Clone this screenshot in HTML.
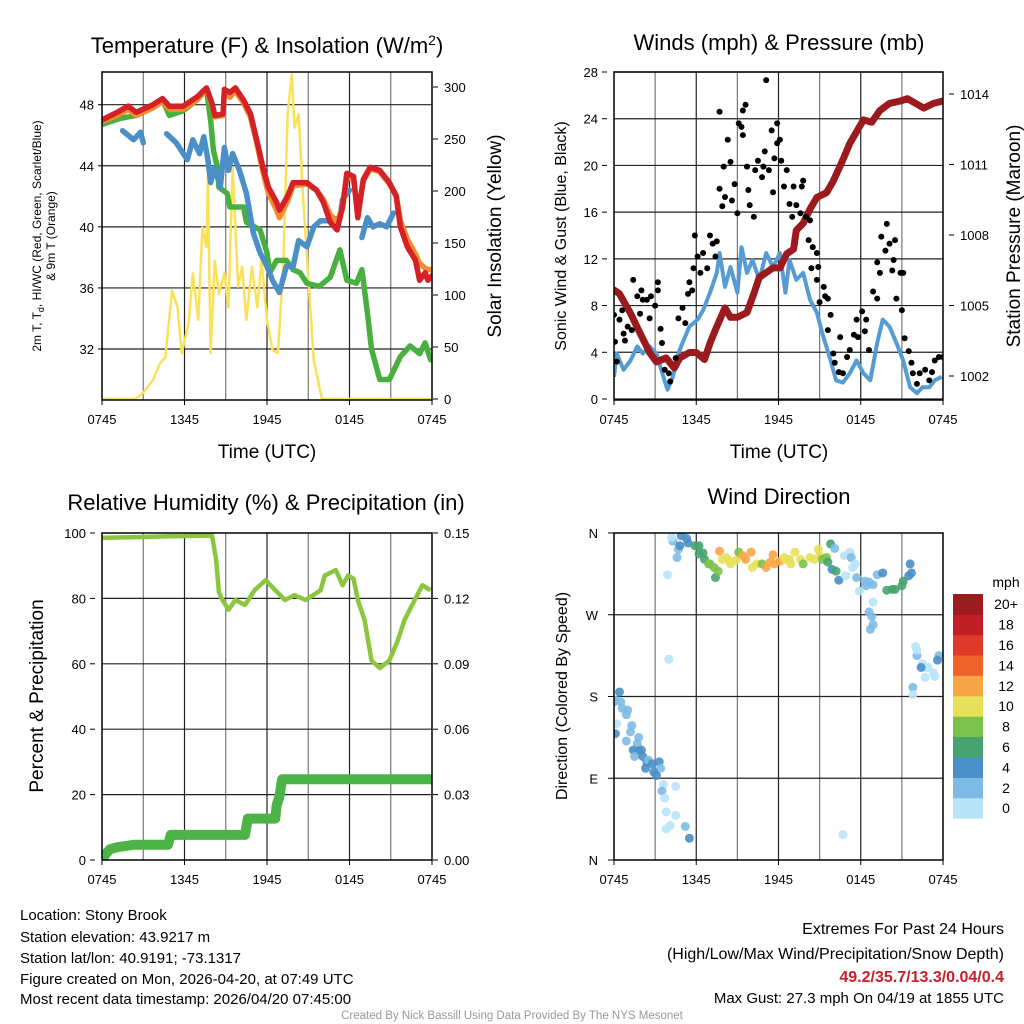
<!DOCTYPE html>
<html><head><meta charset="utf-8"><style>
html,body{margin:0;padding:0;background:#fff;}
svg{display:block;font-family:"Liberation Sans",Arial,sans-serif;}
</style></head><body>
<svg id="s" width="1024" height="1024" viewBox="0 0 1024 1024" xmlns="http://www.w3.org/2000/svg">
<defs>
<clipPath id="c1"><rect x="102" y="72" width="330" height="328"/></clipPath>
<clipPath id="c2"><rect x="614" y="72" width="329" height="328"/></clipPath>
<clipPath id="c3"><rect x="102" y="533" width="330" height="327"/></clipPath>
<clipPath id="c4"><rect x="614" y="533" width="329" height="327"/></clipPath>
</defs>
<g id="g1"></g>
<g id="g2"></g>
<g id="g3"></g>
<g id="g4"></g>

<text x="267" y="53" font-size="22" text-anchor="middle">Temperature (F) &amp; Insolation (W/m<tspan dy="-8" font-size="14">2</tspan><tspan dy="8">)</tspan></text>
<text x="779" y="50" font-size="22" text-anchor="middle">Winds (mph) &amp; Pressure (mb)</text>
<text x="266" y="510" font-size="22" text-anchor="middle">Relative Humidity (%) &amp; Precipitation (in)</text>
<text x="779" y="504" font-size="22" text-anchor="middle">Wind Direction</text>

<text x="267" y="458" font-size="19" text-anchor="middle">Time (UTC)</text>
<text x="779" y="458" font-size="19" text-anchor="middle">Time (UTC)</text>

<text transform="translate(41,236) rotate(-90)" font-size="12" text-anchor="middle">2m T, T<tspan dy="3" font-size="9">d</tspan><tspan dy="-3">, HI/WC (Red, Green, Scarlet/Blue)</tspan></text>
<text transform="translate(55,236) rotate(-90)" font-size="12" text-anchor="middle">&amp; 9m T (Orange)</text>
<text transform="translate(501,236) rotate(-90)" font-size="19" text-anchor="middle">Solar Insolation (Yellow)</text>
<text transform="translate(566,236) rotate(-90)" font-size="16" text-anchor="middle">Sonic Wind &amp; Gust (Blue, Black)</text>
<text transform="translate(1020,236) rotate(-90)" font-size="19" text-anchor="middle">Station Pressure (Maroon)</text>
<text transform="translate(43,696) rotate(-90)" font-size="19" text-anchor="middle">Percent &amp; Precipitation</text>
<text transform="translate(567,696) rotate(-90)" font-size="16" text-anchor="middle">Direction (Colored By Speed)</text>

<g font-size="15">
<text x="20" y="920">Location: Stony Brook</text>
<text x="20" y="942">Station elevation: 43.9217 m</text>
<text x="20" y="963">Station lat/lon: 40.9191; -73.1317</text>
<text x="20" y="984">Figure created on Mon, 2026-04-20, at 07:49 UTC</text>
<text x="20" y="1004">Most recent data timestamp: 2026/04/20 07:45:00</text>
</g>
<g font-size="16" text-anchor="end">
<text x="1004" y="934">Extremes For Past 24 Hours</text>
<text x="1004" y="959">(High/Low/Max Wind/Precipitation/Snow Depth)</text>
<text x="1004" y="982" fill="#c7202a" font-weight="bold">49.2/35.7/13.3/0.04/0.4</text>
<text x="1004" y="1003" font-size="15">Max Gust: 27.3 mph On 04/19 at 1855 UTC</text>
</g>
<text x="512" y="1019" font-size="11.5" fill="#999" text-anchor="middle">Created By Nick Bassill Using Data Provided By The NYS Mesonet</text>
</svg>
<script>
// ---------- DATA ----------
const xTickLabels = ["0745","1345","1945","0145","0745"];
// Temperature panel
const redH = [0,1.1,1.9,2.5,3.7,4.4,4.9,5.9,6.9,7.6,8,8.2,8.8,8.9,9.3,9.7,10.3,10.8,11.3,11.7,12.1,12.7,12.9,13.5,13.9,14.9,15.6,16.1,16.6,17.1,17.5,17.8,18.3,18.6,19,19.5,20.2,20.9,21.4,21.7,22.2,22.8,23.1,23.5,23.7,24];
const redT = [47.0,47.5,47.9,47.5,48,48.4,47.9,47.9,48.5,49.1,48.1,47.3,47.4,49,48.8,49.1,48.3,47.4,45.5,43.9,42.6,41.6,41.1,42,42.9,42.9,42.4,41.6,40.3,39.8,41.3,43.5,43.3,40.6,43.1,43.9,43.7,42.9,42,40,38.7,37.8,36.5,37,36.5,36.8];
const orangeT = [46.9,47.3,47.7,47.3,47.8,48.2,47.7,47.7,48.3,49.0,48.0,47.2,47.3,48.8,48.5,48.9,48.1,47.2,45.3,43.6,42.2,41.1,40.6,41.7,42.7,42.8,42.4,41.8,40.8,40.3,41.3,43.3,43.1,40.9,43.0,43.8,43.6,42.8,42.1,40.4,39.2,38.2,37.6,37.3,37.2,37.2];
const greenH = [0,1.3,2.5,3.7,4.4,4.9,5.9,6.9,7.6,7.9,8.1,8.4,8.5,9.1,9.3,10.3,10.5,11.5,12,12.2,12.7,13.4,13.9,14.4,14.9,15.8,16.6,17.3,17.8,18.5,18.9,19.3,19.6,20.2,20.9,21.7,22.4,23.1,23.5,23.9];
const greenT = [46.7,47.1,47.3,47.8,48.3,47.3,47.6,48.3,49,47,45,43.9,42.6,42.2,41.3,41.3,40.3,39.8,38.3,37,37.8,37.8,37.2,37,36.3,36.1,36.7,38.5,36.5,36.3,37.2,34.4,32,30,30,31.5,32.2,31.7,32.4,31.3];
const blueH = [1.5,2.3,2.8,3.0,null,4.7,5.4,6.2,6.6,7.1,7.4,7.7,7.9,8.2,8.6,8.9,9.2,9.5,10,10.5,11,11.5,12,12.4,12.9,13.4,13.9,14.3,14.9,15.4,15.9,16.6,17.3,17.5,18,null,18.9,19.3,19.7,20.2,20.7,21.2];
const blueT = [46.3,45.7,46.2,45.5,null,46.1,45.5,44.4,45.7,44.8,45.9,44.4,42.9,43.9,42.6,45.2,43.7,44.8,43.7,42.2,39.6,38.3,37.4,36.5,35.7,37.4,37.4,39.1,38.7,40,40.4,40.4,40.6,41.8,42.4,null,39.3,40.6,40,40.2,40,40.9];
const solarH = [0,2.4,3,3.7,4.2,4.6,5.1,5.5,5.8,6.3,6.6,7,7.3,7.6,7.7,7.9,8.2,8.5,8.9,9.2,9.5,9.9,10.2,10.5,10.9,11.3,11.6,12,12.4,12.8,13.2,13.5,13.8,14,14.3,14.6,15,15.4,15.9,16,24];
const solarW = [0,0,6,18,34,40,104,88,44,73,121,76,165,146,213,44,133,101,121,88,223,108,127,76,127,88,133,76,47,44,133,274,312,261,274,198,117,37,6,0,0];
const tempTicks = [48,44,40,36,32];
const solarTicks = [0,50,100,150,200,250,300];
// Winds panel
const windH = [0,0.2,0.7,1.2,1.7,2.1,2.6,3.1,3.6,3.9,4.3,4.7,5,5.5,6.1,6.5,7,7.5,7.7,8.1,8.5,9,9.3,9.7,10.1,10.6,11.1,11.6,12.1,12.5,12.8,13.3,13.8,14.3,14.8,15.2,15.8,16.2,16.7,17.2,17.7,18.2,18.7,19.2,19.6,20.1,20.6,21.1,21.6,22.1,22.5,23,23.4,23.9];
const windV = [1.9,3.9,2.5,3.3,4.5,3.9,4.5,3.9,1.9,0.8,1.9,3.9,4.8,6.2,6.8,7.6,9.1,10.8,12.5,9.6,11.3,9.1,13,10.8,11.9,10.2,12.5,11.3,12.5,9.1,11.9,10.2,10.8,8.5,7.4,5.6,3.3,1.6,1.4,2.2,3.3,2.2,1.6,4.8,6.8,6.2,4.8,3.3,1,0.5,1,1,1.6,1.9];
const gustH = [0,0.07,0.2,0.4,0.6,0.7,0.8,1.0,1.3,1.4,1.7,1.9,2.0,2.1,2.4,2.6,2.7,3.0,3.2,3.2,3.4,3.5,3.7,4.0,4.1,4.5,4.7,5.0,5.2,5.4,5.5,5.7,5.9,5.8,6.1,6.3,6.5,6.8,7.0,7.2,7.4,7.5,7.7,7.9,8.0,8.1,7.7,8.3,8.5,8.6,8.8,9.0,9.1,9.3,9.4,9.6,9.4,9.7,9.8,9.9,10.2,10.3,10.5,10.8,10.9,11.0,11.1,11.3,11.5,11.6,11.7,11.9,11.9,12.1,12.2,12.4,12.6,12.8,13.0,13.1,13.3,13.6,13.7,13.8,14.0,14.2,14.3,14.5,14.4,14.8,14.9,14.8,15.3,15.4,15.6,15.0,15.8,15.6,16.0,16.1,16.4,16.5,16.7,17.0,17.2,17.5,17.7,17.8,18.1,18.3,18.4,18.6,18.9,19.2,19.2,19.4,19.5,19.8,19.9,20.1,20.3,20.4,20.5,20.6,20.9,21.0,21.1,21.2,21.5,21.7,21.8,22.1,22.3,22.7,23.0,23.2,23.4,23.7,24.0];
const gustV = [7.2,4.9,3.2,6.8,7.6,5.6,5.0,6.2,5.9,10.2,8.8,7.3,9.3,8.5,8.5,6.9,8.8,8.0,10.0,9.3,6.0,4.8,2.5,2.2,1.5,3.5,6.9,7.8,6.5,9.0,10.0,9.3,14.0,11.2,12.2,10.8,12.5,11.2,14.0,13.3,12.2,13.5,18.0,16.5,19.9,17.3,24.6,22.2,20.3,17.0,18.4,15.9,23.6,23.3,24.7,25.2,22.6,19.9,17.9,16.6,15.6,19.6,20.4,19.0,19.9,21.2,27.3,19.6,23.0,17.7,20.6,21.9,23.6,22.2,20.4,18.2,19.6,16.7,15.6,18.2,16.6,15.9,18.2,18.7,15.6,13.6,15.3,13.0,11.2,12.5,11.3,10.2,9.6,8.8,8.6,8.3,7.2,5.9,3.9,3.1,2.3,5.3,2.2,3.6,4.2,5.5,6.8,5.3,7.5,5.8,6.8,4.2,9.2,8.6,11.7,10.8,13.9,12.7,15.0,13.3,11.0,11.9,13.6,8.6,10.8,7.6,10.8,5.2,4.1,3.1,2.2,1.3,2.2,2.5,1.6,2.3,3.3,3.6,3.6];
const presH = [0,0.4,1.2,1.9,2.6,3.1,3.8,4.4,4.8,5.5,6.0,6.6,7.0,7.5,8.1,8.5,9.0,9.7,10.2,10.6,11.1,11.6,12.1,12.6,13.1,13.3,13.8,14.3,14.8,15.5,16.0,16.7,17.2,17.8,18.2,18.8,19.4,20.1,20.9,21.4,22.0,22.6,23.3,24];
const presP = [1005.66,1005.5,1004.67,1003.83,1003,1002.6,1002.77,1002.34,1002.77,1003,1003,1002.7,1003.4,1004.1,1004.9,1004.5,1004.5,1004.7,1005.5,1006.2,1006.4,1006.6,1006.6,1007.2,1007.4,1008.2,1008.5,1009.1,1009.6,1009.8,1010.3,1011.2,1011.9,1012.5,1012.9,1012.8,1013.3,1013.6,1013.7,1013.8,1013.6,1013.4,1013.6,1013.7];
const windTicks = [0,4,8,12,16,20,24,28];
const presTicks = [1002,1005,1008,1011,1014];
// Humidity panel
const rhH = [0,5,8.0,8.3,8.5,8.7,9.2,9.7,10.4,11.1,11.9,12.6,13.3,14,14.8,15.9,16.2,17,17.5,17.9,18.3,18.6,19.1,19.6,20.2,20.9,21.5,22,22.8,23.3,23.9];
const rhV = [98.5,99,99.2,92,82,80,76.5,79.5,78,82.5,85.6,82.5,79.5,81,79.5,82.5,87,88.7,84,87,86,79.5,73.4,61,58.7,61,67,73.4,80,84,82.5];
const pcpH = [0,0.3,0.6,1.2,2.4,4.8,5.0,10.4,10.6,12.6,12.7,12.9,13.1,24];
const pcpV = [0,0.003,0.005,0.006,0.007,0.007,0.0115,0.0115,0.019,0.019,0.025,0.029,0.037,0.037];
const rhTicks = [0,20,40,60,80,100];
const pcpTicks = ["0.00","0.03","0.06","0.09","0.12","0.15"];
// Direction panel
const dirH = [0,0.1,0.4,0.5,0.6,1.0,0.9,0.2,0.1,1.3,1.2,0.9,1.8,1.7,1.4,1.8,2.0,1.5,2.1,2.4,2.5,2.3,2.8,3.3,3.4,2.9,3.1,3.6,3.5,4.5,3.7,3.8,4.5,3.8,4.1,5.2,5.5,3.9,4.6,4.7,4.3,4.2,4.8,4.9,5.4,5.3,5.9,6.2,6.2,6.5,6.6,6.9,7.0,7.3,7.4,7.6,7.7,7.9,8.2,8.4,8.5,8.9,9.1,9.4,9.6,10.0,10.1,10.4,10.8,11.1,11.4,11.7,11.6,12.1,12.4,12.5,12.8,12.9,13.2,13.6,13.8,14.3,14.6,14.9,15.0,15.2,15.5,15.8,15.9,15.6,16.2,16.4,16.1,16.8,17.2,17.4,16.9,17.3,17.6,17.7,17.9,18.3,18.4,18.9,19.2,19.6,19.9,20.3,20.5,21.0,21.1,21.5,21.6,21.7,18.6,18.9,18.6,18.8,18.9,18.7,4.0,22.1,22.0,22.5,22.1,22.7,22.9,23.3,22.7,23.4,23.7,23.6,22.4,21.8,21.8,16.7];
const dirD = [174,176,185,174,167,165,160,150,139,148,141,131,135,128,121,120,121,114,114,108,110,101,106,108,101,97,93,83,76,81,68,53,49,34,38,37,24,314,333,342,351,355,346,357,349,354,346,337,346,338,331,326,326,322,311,318,340,331,333,329,326,330,339,335,331,339,322,326,326,322,328,326,336,329,333,331,331,326,339,331,326,333,331,342,335,331,333,348,320,328,318,308,343,335,339,322,313,333,326,311,296,307,302,303,314,316,297,298,298,302,307,313,326,316,306,284,273,268,259,254,221,225,235,216,231,212,212,206,201,202,225,220,212,190,182,28,6];
const dirS = [2,2,4,2,2,2,2,0,4,2,2,2,2,2,4,4,4,2,4,4,2,4,4,4,2,4,4,0,2,0,0,0,0,0,0,2,4,0,2,2,2,0,4,4,4,4,6,6,6,6,6,8,8,8,6,8,12,10,10,10,10,10,8,12,12,12,10,10,8,12,12,12,12,12,10,10,10,10,10,10,8,10,10,10,10,8,8,6,4,6,6,4,2,0,0,0,0,2,0,2,0,2,2,2,2,4,6,6,6,6,6,4,4,4,2,0,2,2,2,2,0,2,0,0,0,0,0,0,0,0,2,4,4,2,0,0,0,0];
const dirLabels = ["N","E","S","W","N"];
const cbarLabels = ["0","2","4","6","8","10","12","14","16","18","20+"];
const cbarColors = ["#b9e3f8","#7dbbe6","#4a8fc7","#47a36f","#7bc24a","#e7e05b","#f8a645","#f0622b","#df3a2a","#c11f26","#9b1b1e"];

// ---------- HELPERS ----------
const NS="http://www.w3.org/2000/svg";
function mk(parent,tag,attrs){const e=document.createElementNS(NS,tag);for(const k in attrs)e.setAttribute(k,attrs[k]);parent.appendChild(e);return e;}
function lin(d0,d1,r0,r1){return v=>r0+(v-d0)*(r1-r0)/(d1-d0);}
function pathFrom(hs,vs,sx,sy){let d="",pen=false;for(let i=0;i<hs.length;i++){if(hs[i]===null||vs[i]===null){pen=false;continue;}d+=(pen?"L":"M")+sx(hs[i]).toFixed(1)+","+sy(vs[i]).toFixed(1);pen=true;}return d;}
function frame(g,L,T,R,B,hlines,sy,clip){
  const grid=mk(g,"g",{});
  
  
  const sx=lin(0,24,L,R);
  for(let h=3;h<24;h+=3){const l=mk(grid,"line",{x1:sx(h),x2:sx(h),y1:T,y2:B,stroke:h%6===0?"#222":"#777","stroke-width":1.2});}
  hlines.forEach(v=>{mk(grid,"line",{x1:L,x2:R,y1:sy(v),y2:sy(v),stroke:"#222","stroke-width":1.2});});
  xTickLabels.forEach((t,i)=>{const x=sx(i*6);
    mk(g,"line",{x1:x,x2:x,y1:B,y2:B+5,stroke:"#000"});
    const tx=mk(g,"text",{x:x,y:B+24,"font-size":13,"text-anchor":"middle"});tx.textContent=t;
    
    
  });
  return sx;
}
function border(g,L,T,R,B){const r=mk(g,"rect",{x:L,y:T,width:R-L,height:B-T,fill:"none",stroke:"#000","stroke-width":1.5});
  
  }
function yLabels(g,ticks,texts,sy,x,anchor){ticks.forEach((v,i)=>{const t=mk(g,"text",{x:x,y:sy(v)+5,"font-size":13,"text-anchor":anchor});t.textContent=texts?texts[i]:String(v);
  
  
  const tx=anchor==="end"?x+4:x-6;mk(g,"line",{x1:tx,x2:tx+(anchor==="end"?5:-5),y1:sy(v),y2:sy(v),stroke:"#000"});});}

// ---------- PANEL 1 ----------
(function(){
  const g=document.getElementById("g1");
  const L=102,T=72,R=432,B=400;
  const sy=lin(48,32,104.7,349);
  const sy2=lin(0,300,399,87);
  const sx=frame(g,L,T,R,B,tempTicks,sy);
  const c=mk(g,"g",{"clip-path":"url(#c1)"});
  const sol=mk(c,"path",{d:pathFrom(solarH,solarW,sx,sy2),fill:"none",stroke:"#fbe15a","stroke-width":2.5,"stroke-linejoin":"round"});
  
  
  const gr=mk(c,"path",{d:pathFrom(greenH,greenT,sx,sy),fill:"none",stroke:"#49b03f","stroke-width":5.5,"stroke-linejoin":"round","stroke-linecap":"round"});
  
  
  const bl=mk(c,"path",{d:pathFrom(blueH,blueT,sx,sy),fill:"none",stroke:"#4a8fc7","stroke-width":5.5,"stroke-linejoin":"round","stroke-linecap":"round"});
  
  
  const or=mk(c,"path",{d:pathFrom(redH,orangeT,sx,sy),fill:"none",stroke:"#f58a31","stroke-width":5.5,"stroke-linejoin":"round","stroke-linecap":"round"});
  
  
  const rd=mk(c,"path",{d:pathFrom(redH,redT,sx,sy),fill:"none",stroke:"#d42027","stroke-width":5.5,"stroke-linejoin":"round","stroke-linecap":"round"});
  
  
  border(g,L,T,R,B);
  yLabels(g,tempTicks,null,sy,94,"end");
  yLabels(g,solarTicks,null,sy2,444,"start");
})();

// ---------- PANEL 2 ----------
(function(){
  const g=document.getElementById("g2");
  const L=614,T=72,R=943,B=400;
  const sy=lin(0,28,399,72);
  const sy2=lin(1014,1002,94,376);
  const sx=frame(g,L,T,R,B,windTicks,sy);
  const c=mk(g,"g",{"clip-path":"url(#c2)"});
  const wl=mk(c,"path",{d:pathFrom(windH,windV,sx,sy),fill:"none",stroke:"#559bd4","stroke-width":4,"stroke-linejoin":"round"});
  
  
  const pl=mk(c,"path",{d:pathFrom(presH,presP,sx,sy2),fill:"none",stroke:"#9b1a1d","stroke-width":7,"stroke-linejoin":"round","stroke-linecap":"round"});
  
  
  for(let i=0;i<gustH.length;i++){
    const d=mk(c,"circle",{cx:sx(gustH[i]),cy:sy(gustV[i]),r:3,fill:"#000"});
    
    
  }
  border(g,L,T,R,B);
  yLabels(g,windTicks,null,sy,598,"end");
  yLabels(g,presTicks,null,sy2,960,"start");
})();

// ---------- PANEL 3 ----------
(function(){
  const g=document.getElementById("g3");
  const L=102,T=533,R=432,B=860;
  const sy=lin(0,100,860,533);
  const sy2=lin(0,0.15,860,533);
  const sx=frame(g,L,T,R,B,[20,40,60,80],sy);
  const c=mk(g,"g",{"clip-path":"url(#c3)"});
  const pc=mk(c,"path",{d:pathFrom(pcpH,pcpV,sx,sy2),fill:"none",stroke:"#4cb446","stroke-width":10,"stroke-linejoin":"round","stroke-linecap":"round"});
  
  
  const rh=mk(c,"path",{d:pathFrom(rhH,rhV,sx,sy),fill:"none",stroke:"#8cc63f","stroke-width":4.5,"stroke-linejoin":"round"});
  
  
  border(g,L,T,R,B);
  yLabels(g,rhTicks,null,sy,86,"end");
  yLabels(g,pcpTicks.map(Number),pcpTicks,sy2,444,"start");
})();

// ---------- PANEL 4 ----------
(function(){
  const g=document.getElementById("g4");
  const L=614,T=533,R=943,B=860;
  const sy=lin(0,360,860,533);
  const sx=frame(g,L,T,R,B,[90,180,270],sy);
  const c=mk(g,"g",{"clip-path":"url(#c4)"});
  for(let i=0;i<dirH.length;i++){
    const col=cbarColors[Math.min(10,Math.round(dirS[i]/2))];
    const d=mk(c,"circle",{cx:sx(dirH[i]),cy:sy(dirD[i]),r:4.5,fill:col,"fill-opacity":0.9});
    
    
  }
  border(g,L,T,R,B);
  dirLabels.forEach((t,i)=>{const y=sy(i*90);
    const tx=mk(g,"text",{x:598,y:y+5,"font-size":13,"text-anchor":"end"});tx.textContent=t;
    
    
    mk(g,"line",{x1:608,x2:614,y1:y,y2:y,stroke:"#000"});});
  const cb=mk(g,"g",{});
  
  
  const h=20.4;
  cbarColors.forEach((col,i)=>{const y=594+(10-i)*h;
    const r=mk(cb,"rect",{x:953,y:y,width:30,height:h+0.3,fill:col});
    
    
    const t=mk(cb,"text",{x:1006,y:y+h/2+5,"font-size":14,"text-anchor":"middle"});t.textContent=cbarLabels[i];
    
    
  });
  const u=mk(cb,"text",{x:1006,y:587,"font-size":14,"text-anchor":"middle"});u.textContent="mph";
  
  
})();
</script>
</body></html>
